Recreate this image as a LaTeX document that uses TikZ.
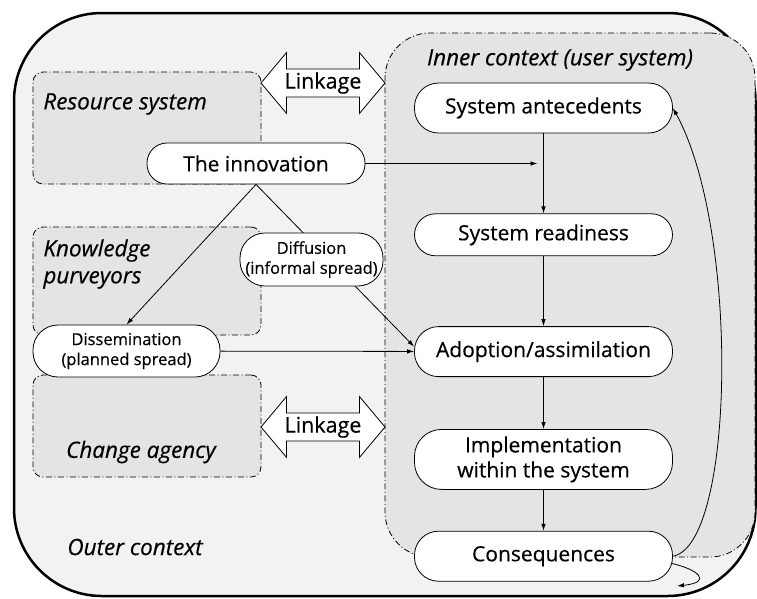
\documentclass[tikz,border=0pt]{standalone}
\usepackage{fontspec}
\setmainfont{Open Sans}[FakeBold=0.4]
\usetikzlibrary{positioning,shapes.arrows,arrows.meta}
\definecolor{outergrey}{HTML}{F2F2F2}
\definecolor{innergrey}{HTML}{E4E4E4}

\begin{document}
\begin{tikzpicture} [
	x=1pt,y=-1pt,
	text centered,
	node distance=40pt,
	>={Latex[length=7pt,width=4.5pt]},
	line width=0.8pt,
	nstage/.style={
		rectangle,rounded corners=24pt,draw,fill=white,
		minimum width=258pt,minimum height=50pt,inner sep=2pt,
		font=\fontsize{21}{25}\selectfont,align=center
	},
	nspread/.style={
		rectangle,rounded corners=25pt,draw,fill=white,
		font=\fontsize{16.5}{20}\selectfont,align=center,inner sep=1pt
	},
	nregion/.style={
		rectangle,rounded corners=10pt,draw,fill=innergrey,
		dash pattern=on 6pt off 2.5pt on 1pt off 2.5pt,
		minimum width=228pt
	},
	nlabel/.style={
		font=\fontsize{22.5}{27}\selectfont\itshape,align=left,inner sep=0pt
	},
	nlink/.style={
		double arrow,draw,fill=white,double arrow tip angle=100,
		double arrow head extend=13pt,minimum width=61pt,minimum height=124pt,
		inner sep=0pt,font=\fontsize{21.5}{25}\selectfont
	}
]
\useasboundingbox (0,0) rectangle (757,598);
% contexts
\node [draw,line width=2.5pt,fill=outergrey,rounded corners=88pt,
	minimum width=741.5pt,minimum height=583pt]	(outer) at (384.75,304.5) {};
\node [nregion,rounded corners=45pt,minimum width=370pt,minimum height=524pt]
	(inner) at (570,295) {};
\node [nregion,minimum height=112pt]	(resource) at (147,128) {};
\node [nregion,minimum height=108pt]	(purveyors) at (147,281) {};
\node [nregion,minimum height=102pt]	(agency) at (147,426) {};
\node [nlabel,anchor=west]	(resourcelabel) at (43,104) {Resource system};
\node [nlabel,anchor=west]	(purveyorslabel) at (43,264) {Knowledge\\purveyors};
\node [nlabel]	(agencylabel) at (141,452) {Change agency};
\node [nlabel]	(outerlabel) at (135,547) {Outer context};
\node [nlabel]	(innerlabel) at (560,60) {Inner context (user system)};
\node [nlink]	(linktop) at (323,83) {Linkage};
\node [nlink]	(linkbottom) at (323,427) {Linkage};
% user system stages
\node [nstage]	(antecedents) at (543.5,108)	{System antecedents};
\node [nstage,minimum height=42pt,rounded corners=21pt]	(readiness) [below=80pt of antecedents]	{System readiness};
\node [nstage]	(adoption) [below=70pt of readiness]	{Adoption/assimilation};
\node [nstage,minimum height=60pt,rounded corners=27pt]	(implementation) [below=52pt of adoption]	{Implementation\\within the system};
\node [nstage]	(consequences) [below=41pt of implementation]	{Consequences};
% the innovation and its spread
\node [nstage,minimum width=218pt,minimum height=41pt,rounded corners=20pt]	(innovation) at (256,163.5) {The innovation};
\node [nspread,minimum width=187pt,minimum height=52pt]	(dissemination) at (126.5,351) {Dissemination\\(planned spread)};
\draw [->] (innovation) -- ([xshift=-6pt]innovation -| antecedents);
\draw [->] (innovation.south) -- (dissemination.north);
\draw [->] (innovation.south) -- ([yshift=5pt]adoption.west);
\draw [->] (dissemination) -- (adoption);
\node [nspread,minimum width=143pt,minimum height=53pt]	(diffusion) at (311.5,259.5) {Diffusion\\(informal spread)};
\draw [->] (antecedents) -- (readiness);
\draw [->] (readiness) -- (adoption);
\draw [->] (adoption) -- (implementation);
\draw [->] (implementation) -- (consequences);
% feedback
\draw [->] (consequences.east) .. controls (735,545) and (740,230) .. (antecedents.east);
\coordinate (hookend) at (677,586);
\draw [->] ([xshift=-2pt,yshift=-7pt]consequences.east) .. controls (697,569) and (714,582) .. (hookend);
\end{tikzpicture}
\end{document}
